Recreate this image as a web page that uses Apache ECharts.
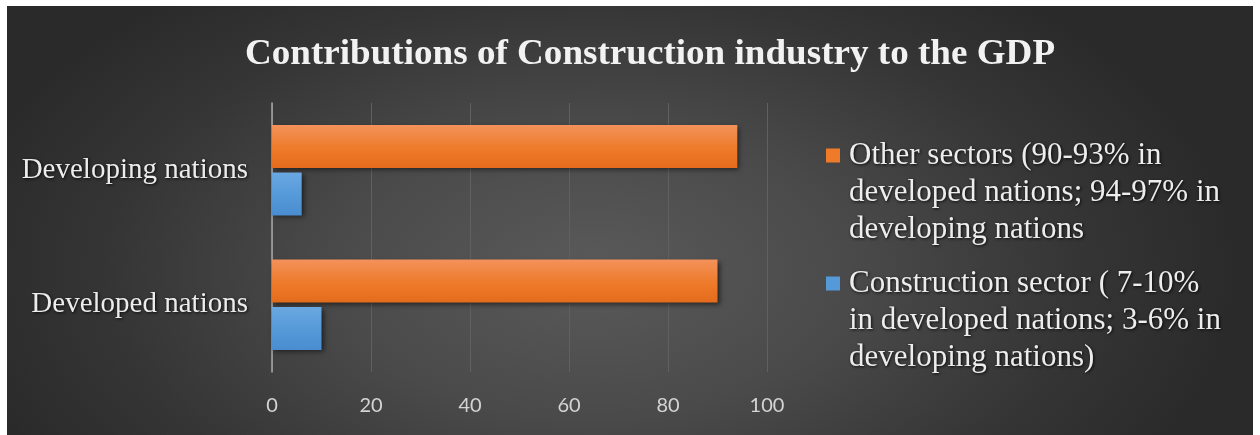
<!DOCTYPE html>
<html>
<head>
<meta charset="utf-8">
<script src="https://cdn.jsdelivr.net/npm/echarts@6/dist/echarts.min.js"></script>
<style>
  html, body { margin: 0; padding: 0; background: #ffffff; }
  #chart {
    position: absolute; left: 7px; top: 6px; width: 1246px; height: 429px;
    background: radial-gradient(ellipse 52% 85% at 47% 62%, #5a5a5a 0%, #4a4a4a 40%, #353535 75%, #2a2a2a 100%);
  }
</style>
</head>
<body>
<div id="chart"></div>
<script>
// Contribution of the construction sector vs. other sectors to GDP (%)
const chartTitle = 'Contributions of Construction industry to the GDP';
const categories = ['Developed nations', 'Developing nations'];
const otherSectors = [90, 94];
const constructionSector = [10, 6];
const seriesNames = [
  'Other sectors (90-93% in\ndeveloped nations; 94-97% in\ndeveloping nations',
  'Construction sector ( 7-10%\nin developed nations; 3-6% in\ndeveloping nations)'
];
const xTicks = [0, 20, 40, 60, 80, 100];

const orange = { type: 'linear', x: 0, y: 0, x2: 0, y2: 1,
  colorStops: [{ offset: 0, color: '#f3925a' }, { offset: 0.55, color: '#ee7a2a' }, { offset: 1, color: '#e56b1c' }] };
const blue = { type: 'linear', x: 0, y: 0, x2: 0, y2: 1,
  colorStops: [{ offset: 0, color: '#6aa8e2' }, { offset: 0.55, color: '#5599d8' }, { offset: 1, color: '#4a8cd0' }] };

// Legend marker: square on the first text line, box stretched to the 3-line block
const LINE_H = 37;
const BLOCK_H = LINE_H * 3;
const markerPath = 'path://M0,' + (LINE_H / 2 - 7) + 'h14v14h-14z M0,0h0.01v0.01h-0.01z M0,' + BLOCK_H + 'h0.01v0.01h-0.01z';

const shadowText = { textShadowColor: 'rgba(0,0,0,0.85)', textShadowBlur: 3, textShadowOffsetX: 1, textShadowOffsetY: 1 };
const barShadow = { shadowColor: 'rgba(0,0,0,0.55)', shadowBlur: 5, shadowOffsetX: 2, shadowOffsetY: 2 };

const chart = echarts.init(document.getElementById('chart'), null, { renderer: 'canvas' });
chart.setOption({
  backgroundColor: 'transparent',
  animation: false,
  graphic: [{
    type: 'text', x: 643, y: 49, scaleX: 1.06,
    style: {
      text: chartTitle, font: 'bold 35px "Liberation Serif"', fill: '#f2f2f2',
      align: 'center', verticalAlign: 'middle',
      shadowColor: 'rgba(0,0,0,0.85)', shadowBlur: 3, shadowOffsetX: 1, shadowOffsetY: 1
    }
  }],
  legend: {
    orient: 'vertical', left: 814, top: 126,
    itemWidth: 14, itemHeight: BLOCK_H, itemGap: 17,
    data: [
      { name: seriesNames[0], icon: markerPath, itemStyle: { color: '#ee7a2a' } },
      { name: seriesNames[1], icon: markerPath, itemStyle: { color: '#5599d8' } }
    ],
    textStyle: Object.assign({ fontFamily: 'Liberation Serif', fontSize: 31, lineHeight: LINE_H, color: '#ededed', padding: [0, 0, 0, 4] }, shadowText)
  },
  grid: { left: 265, right: 486, top: 97, bottom: 63, containLabel: false },
  xAxis: {
    type: 'value', min: xTicks[0], max: xTicks[xTicks.length - 1], interval: 20,
    axisLine: { show: false }, axisTick: { show: false },
    axisLabel: { color: '#d4d4d4', fontFamily: 'Lato', fontSize: 20, margin: 24 },
    splitLine: { show: true, lineStyle: { color: '#606060', width: 1 } }
  },
  yAxis: {
    type: 'category', data: categories,
    axisLine: { show: true, lineStyle: { color: '#a8a8a8', width: 1.5 } },
    axisTick: { show: false },
    axisLabel: Object.assign({ color: '#ececec', fontFamily: 'Liberation Serif', fontSize: 29, margin: 24 }, shadowText)
  },
  series: [
    { name: seriesNames[0], type: 'bar', data: otherSectors, barWidth: '32%', barGap: '10%',
      itemStyle: Object.assign({ color: orange }, barShadow) },
    { name: seriesNames[1], type: 'bar', data: constructionSector, barWidth: '32%', barGap: '10%',
      itemStyle: Object.assign({ color: blue }, barShadow) }
  ]
});
</script>
</body>
</html>
